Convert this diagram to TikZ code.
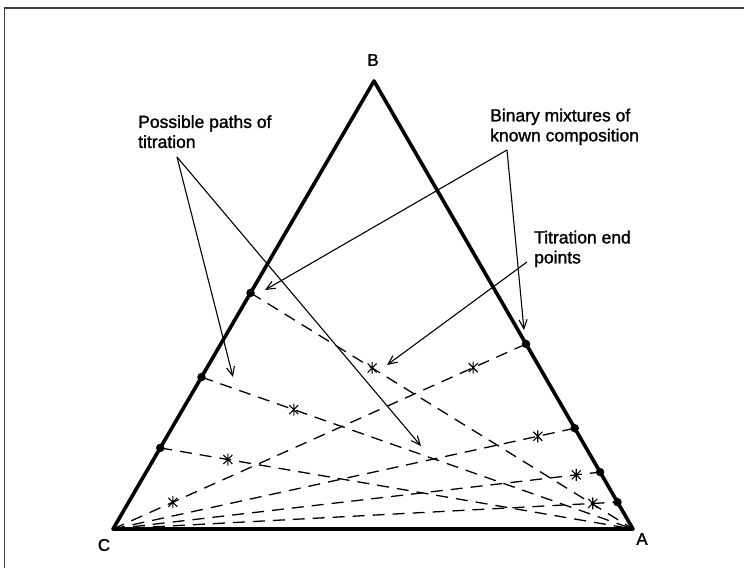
\documentclass[tikz,border=0pt]{standalone}
\usepackage{fontspec}
\setmainfont{Liberation Sans}
\newfontfamily\labfont{Liberation Sans}[FakeBold=1.4]
\usetikzlibrary{calc,arrows.meta}
\begin{document}
\begin{tikzpicture}[x=1pt,y=-1pt,
  edge/.style={line width=3.6pt, line join=round, line cap=round},
  tpath/.style={line width=1.3pt, dash pattern=on 12pt off 8pt},
  ann/.style={line width=1.1pt, -{Straight Barb[length=9pt,width=8pt,line width=1.1pt]}},
  lab/.style={font=\labfont\fontsize{17.5}{20}\selectfont, inner sep=0pt, align=left},
  vlab/.style={font=\labfont\fontsize{17}{20}\selectfont, inner sep=0pt},
  dot/.style={circle, fill, inner sep=0pt, minimum size=8.5pt},
  endpt/.pic={\draw[line width=1.1pt] (-4.5,-4.5)--(4.5,4.5) (-4.5,4.5)--(4.5,-4.5) (0,-6)--(0,6);},
  frame/.style={line width=1.5pt, draw=black!75}
]
\useasboundingbox (0,0) rectangle (744,568);
% frame
\draw[frame] (4.5,568) -- (4.5,8) -- (744,8);

% vertices
\coordinate (C) at (113,529);
\coordinate (A) at (633,529);
\coordinate (B) at (374,81);

% binary mixtures on CB
\coordinate (L1) at ($(C)!0.527!(B)$);
\coordinate (L2) at ($(C)!0.339!(B)$);
\coordinate (L3) at ($(C)!0.181!(B)$);
% binary mixtures on AB
\coordinate (R1) at ($(A)!0.413!(B)$);
\coordinate (R2) at ($(A)!0.225!(B)$);
\coordinate (R3) at ($(A)!0.127!(B)$);
\coordinate (R4) at ($(A)!0.060!(B)$);

% titration paths
\draw[tpath] (L1) -- (A);
\draw[tpath] (L2) -- (A);
\draw[tpath] (L3) -- (A);
\draw[tpath] (C) -- (R1);
\draw[tpath] (C) -- (R2);
\draw[tpath] (C) -- (R3);
\draw[tpath] (C) -- (R4);

% end points
\pic at ($(L1)!0.318!(A)$) {endpt};
\pic at ($(L2)!0.214!(A)$) {endpt};
\pic at ($(L3)!0.143!(A)$) {endpt};
\pic at ($(C)!0.872!(R1)$) {endpt};
\pic at ($(C)!0.145!(R1)$) {endpt};
\pic at ($(C)!0.920!(R2)$) {endpt};
\pic at ($(C)!0.951!(R3)$) {endpt};
\pic at ($(C)!0.951!(R4)$) {endpt};

% triangle
\draw[edge] (C) -- (B) -- (A) -- cycle;

% dots
\foreach \p in {L1,L2,L3,R1,R2,R3,R4} \node[dot] (d\p) at (\p) {};

% vertex labels
\node[vlab] (lB) at (373,60) {B};
\node[vlab] (lC) at (104,545) {C};
\node[vlab] (lA) at (642,539) {A};

% annotation labels
\node[lab, anchor=north west] (pp) at (138,115) {Possible paths of\\titration};
\node[lab, anchor=north west] (bm) at (490,108.5) {Binary mixtures of\\known composition};
\node[lab, anchor=north west] (te) at (534,230.5) {Titration end\\points};

% annotation arrows
\coordinate (ppA) at (177,157);
\coordinate (ppT1) at (233,377);
\coordinate (ppT2) at (421,446);
\draw[ann] (ppA) -- (ppT1);
\draw[ann] (ppA) -- (ppT2);

\coordinate (bmA) at (507,150);
\coordinate (bmT1) at (265,290);
\coordinate (bmT2) at (524,330);
\draw[ann] (bmA) -- (bmT1);
\draw[ann] (bmA) -- (bmT2);

\coordinate (teA) at (527,262);
\coordinate (teT) at (387,365);
\draw[ann] (teA) -- (teT);
\end{tikzpicture}
\end{document}
